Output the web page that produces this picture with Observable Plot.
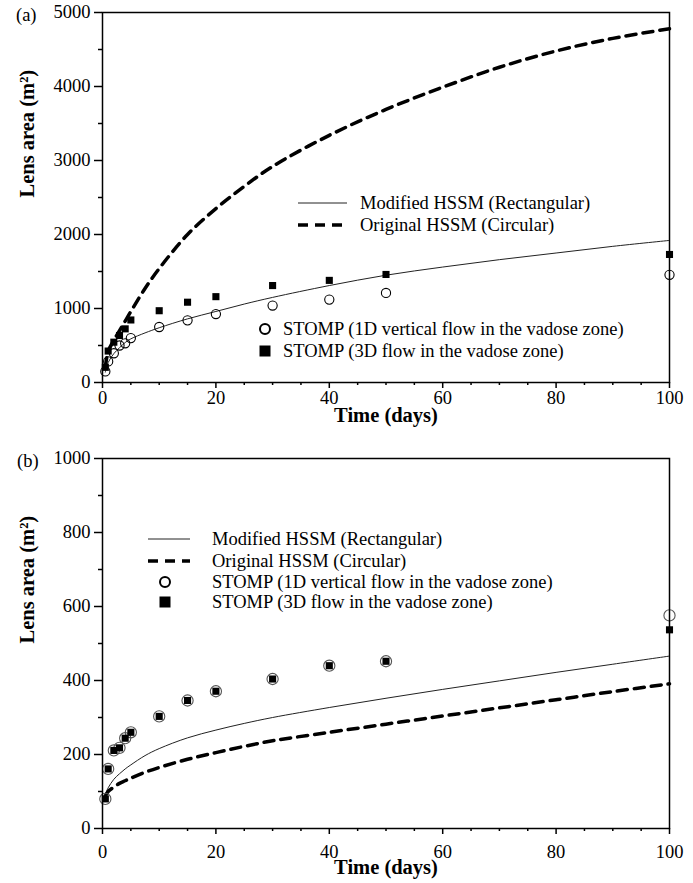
<!DOCTYPE html>
<html>
<head>
<meta charset="utf-8">
<script src="https://cdn.jsdelivr.net/npm/d3@7"></script>
<script src="https://cdn.jsdelivr.net/npm/@observablehq/plot@0.6"></script>
<style>
  html, body { margin: 0; padding: 0; background: #fff; }
  #fig { position: relative; width: 693px; height: 883px; font-family: "Liberation Serif", "Times New Roman", serif; color: #000; }
  #fig svg { display: block; }
  .tag { position: absolute; font-size: 18.5px; line-height: 1; }
  .leg { position: absolute; display: flex; align-items: center; height: 24px; font-size: 18.5px; white-space: nowrap; }
  .leg svg { flex: none; }
</style>
</head>
<body>
<div id="fig"></div>
<script>
// Sampling times of the STOMP simulations (days)
const tStomp = [0.5, 1, 2, 3, 4, 5, 10, 15, 20, 30, 40, 50, 100];
// Times at which the HSSM model curves are tabulated (days)
const tModel = [0.5, 1, 2, 3, 4, 5, 7.5, 10, 15, 20, 25, 30, 40, 50, 60, 70, 80, 90, 100];

// (a) lens area, m²
const modifiedA = [140, 270, 390, 470, 540, 590, 670, 740, 860, 960, 1060, 1150, 1310, 1450, 1560, 1660, 1750, 1840, 1920];
const originalA = [200, 420, 570, 700, 830, 960, 1270, 1540, 2000, 2350, 2650, 2920, 3340, 3690, 3990, 4260, 4480, 4650, 4780];
const stomp1DA = [150, 285, 395, 500, 530, 600, 750, 840, 925, 1040, 1120, 1210, 1455];
const stomp3DA = [205, 425, 545, 635, 725, 845, 970, 1085, 1160, 1310, 1380, 1460, 1730];

// (b) lens area, m²
const modifiedB = [92, 110, 133, 148, 161, 172, 197, 216, 245, 266, 284, 300, 327, 352, 376, 399, 422, 444, 466];
const originalB = [88, 100, 112, 122, 129, 136, 152, 165, 187, 205, 222, 237, 260, 282, 304, 326, 348, 370, 391];
const stomp1DB = [80, 161, 211, 218, 244, 260, 303, 346, 371, 404, 440, 452, 576];
const stomp3DB = [80, 161, 211, 218, 244, 260, 303, 346, 371, 404, 440, 452, 537];

// Axis ticks
const xTicks = [0, 20, 40, 60, 80, 100];
const yTicksA = [0, 1000, 2000, 3000, 4000, 5000];
const yTicksB = [0, 200, 400, 600, 800, 1000];

const xLabel = "Time (days)";
const yLabel = "Lens area (m²)";
const names = {
  modified: "Modified HSSM (Rectangular)",
  original: "Original HSSM (Circular)",
  s1d: "STOMP (1D vertical flow in the vadose zone)",
  s3d: "STOMP (3D flow in the vadose zone)"
};

const rows = (t, v) => t.map((d, i) => ({t: d, v: v[i]}));
const dash = "10,7";
const plain = d => String(d);

function panel(o) {
  const xMinor = d3.range(0, 101, 5).filter(d => !xTicks.includes(d));
  const step = o.yTicks[1] - o.yTicks[0];
  const yMinor = o.yTicks.slice(0, -1).map(d => d + step / 2);
  return Plot.plot({
    width: 693,
    height: o.height,
    marginLeft: 102,
    marginRight: 24,
    marginTop: o.marginTop,
    marginBottom: o.marginBottom,
    style: {fontFamily: "'Liberation Serif', 'Times New Roman', serif", fontSize: "18.5px", color: "#000", background: "#fff", overflow: "visible"},
    x: {domain: [0, 100]},
    y: {domain: [0, o.yTicks[o.yTicks.length - 1]]},
    marks: [
      Plot.axisX({ticks: xTicks, tickSize: 6, tickPadding: o.xPad, tickFormat: plain, strokeWidth: 1.5, label: null}),
      Plot.axisX({ticks: xMinor, tickSize: 3, strokeWidth: 1.5, text: null, label: null}),
      Plot.axisY({ticks: o.yTicks, tickSize: 8, tickPadding: 4, tickFormat: plain, strokeWidth: 1.5, label: null}),
      Plot.axisY({ticks: yMinor, tickSize: 4, strokeWidth: 1.5, text: null, label: null}),
      Plot.text([xLabel], {frameAnchor: "bottom", dy: o.xTitleDy, fontWeight: "bold", fontSize: 20.5}),
      Plot.text([yLabel], {frameAnchor: "left", rotate: -90, dx: -75, fontWeight: "bold", fontSize: 20.5}),
      Plot.line(rows(tModel, o.modified), {x: "t", y: "v", stroke: "#222", strokeWidth: 1, curve: "catmull-rom"}),
      Plot.line(rows(tModel, o.original), {x: "t", y: "v", stroke: "#000", strokeWidth: 3.5, strokeDasharray: dash, curve: "catmull-rom"}),
      Plot.dot(rows(tStomp, o.s1d), {x: "t", y: "v", r: o.circleR, stroke: o.circleStroke, strokeWidth: 1.1, fill: "none"}),
      Plot.dot(rows(tStomp, o.s3d), {x: "t", y: "v", r: 4, symbol: "square", fill: "#000", stroke: "none"}),
      Plot.frame({stroke: "#000", strokeWidth: 1.5})
    ]
  });
}

const fig = document.getElementById("fig");

fig.appendChild(panel({
  height: 440, marginTop: 12, marginBottom: 58, xPad: 2, xTitleDy: 39,
  yTicks: yTicksA, modified: modifiedA, original: originalA,
  s1d: stomp1DA, s3d: stomp3DA, circleR: 4.6, circleStroke: "#000"
}));
fig.appendChild(panel({
  height: 443, marginTop: 18, marginBottom: 55, xPad: 10, xTitleDy: 45,
  yTicks: yTicksB, modified: modifiedB, original: originalB,
  s1d: stomp1DB, s3d: stomp3DB, circleR: 5.6, circleStroke: "#555"
}));

function tag(text, left, top) {
  const d = document.createElement("div");
  d.className = "tag";
  d.textContent = text;
  d.style.left = left + "px";
  d.style.top = top + "px";
  fig.appendChild(d);
}
tag("(a)", 16, 6);
tag("(b)", 17, 452);

const NS = "http://www.w3.org/2000/svg";
function swatch(kind, w) {
  const s = document.createElementNS(NS, "svg");
  s.setAttribute("width", w);
  s.setAttribute("height", 24);
  let el;
  if (kind === "solid" || kind === "dashed") {
    el = document.createElementNS(NS, "line");
    el.setAttribute("x1", 0); el.setAttribute("x2", w);
    el.setAttribute("y1", 12); el.setAttribute("y2", 12);
    el.setAttribute("stroke", kind === "solid" ? "#222" : "#000");
    el.setAttribute("stroke-width", kind === "solid" ? 1 : 3.5);
    if (kind === "dashed") el.setAttribute("stroke-dasharray", dash);
  } else if (kind === "circle") {
    el = document.createElementNS(NS, "circle");
    el.setAttribute("cx", w / 2); el.setAttribute("cy", 12); el.setAttribute("r", 5);
    el.setAttribute("fill", "none"); el.setAttribute("stroke", "#000"); el.setAttribute("stroke-width", 2);
  } else {
    el = document.createElementNS(NS, "rect");
    el.setAttribute("x", w / 2 - 5.5); el.setAttribute("y", 6.5);
    el.setAttribute("width", 11); el.setAttribute("height", 11);
    el.setAttribute("fill", "#000");
  }
  s.appendChild(el);
  return s;
}
function legend(kind, label, left, cy, w, gap) {
  const d = document.createElement("div");
  d.className = "leg";
  d.style.left = left + "px";
  d.style.top = (cy - 12) + "px";
  d.appendChild(swatch(kind, w));
  const sp = document.createElement("span");
  sp.textContent = label;
  sp.style.marginLeft = gap + "px";
  d.appendChild(sp);
  fig.appendChild(d);
}

// (a) legends
legend("solid", names.modified, 298, 203, 49, 13);
legend("dashed", names.original, 298, 225, 49, 13);
legend("circle", names.s1d, 258, 329, 14, 11);
legend("square", names.s3d, 258, 351, 14, 11);

// (b) legends
legend("solid", names.modified, 148, 539, 42, 22);
legend("dashed", names.original, 148, 561, 42, 22);
legend("circle", names.s1d, 148, 582, 34, 30);
legend("square", names.s3d, 148, 602, 34, 30);
</script>
</body>
</html>
